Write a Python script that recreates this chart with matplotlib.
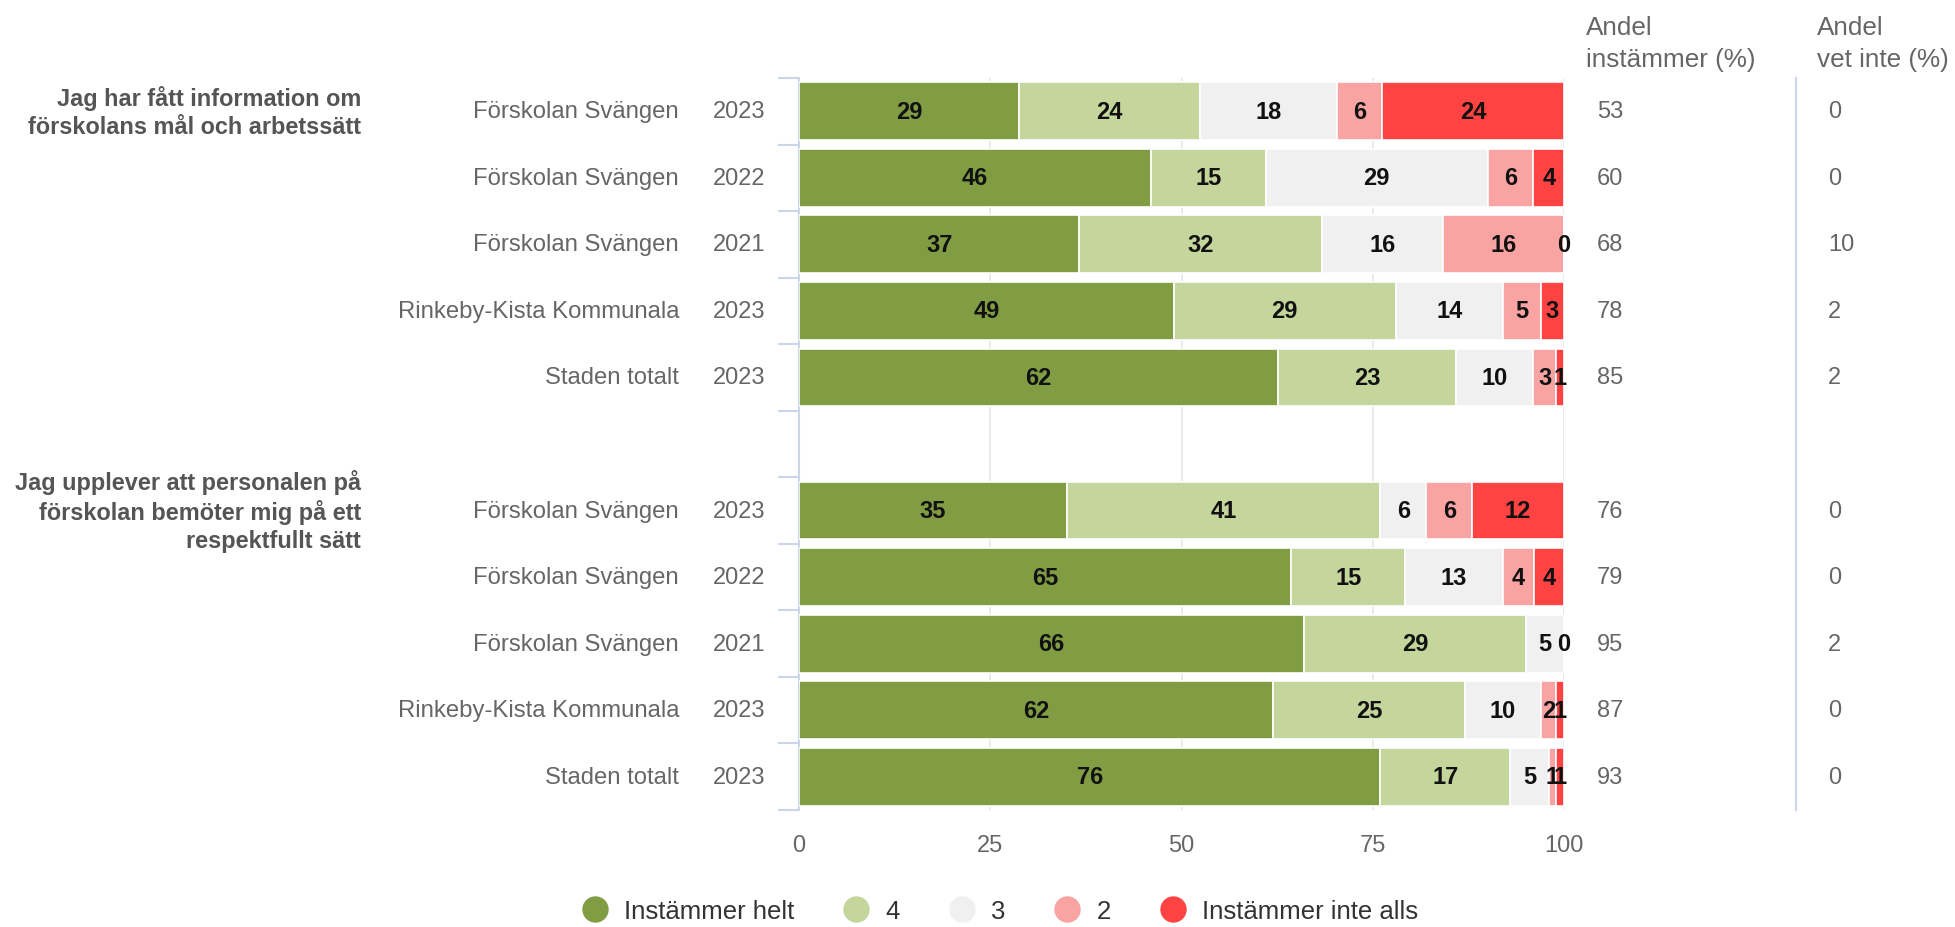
import numpy as np
import matplotlib.pyplot as plt
import matplotlib.transforms as mtransforms
from matplotlib.lines import Line2D

plt.rcParams['font.family'] = ['Liberation Sans', 'DejaVu Sans']

W, H = 1955, 928

questions = ["Jag har fått information om\nförskolans mål och arbetssätt",
             "Jag upplever att personalen på\nförskolan bemöter mig på ett\nrespektfullt sätt"]
units = ["Förskolan Svängen", "Förskolan Svängen", "Förskolan Svängen",
         "Rinkeby-Kista Kommunala", "Staden totalt"]
years = ["2023", "2022", "2021", "2023", "2023"]
series = ["Instämmer helt", "4", "3", "2", "Instämmer inte alls"]
colors = ["#819d44", "#c4d69c", "#f0f0f0", "#f9a3a3", "#ff4343"]

q1_values = [[29, 24, 18, 6, 24],
             [46, 15, 29, 6, 4],
             [37, 32, 16, 16, 0],
             [49, 29, 14, 5, 3],
             [62, 23, 10, 3, 1]]
q2_values = [[35, 41, 6, 6, 12],
             [65, 15, 13, 4, 4],
             [66, 29, 5, 0, 0],
             [62, 25, 10, 2, 1],
             [76, 17, 5, 1, 1]]
q1_agree = [53, 60, 68, 78, 85]
q2_agree = [76, 79, 95, 87, 93]
q1_dontknow = [0, 0, 10, 2, 2]
q2_dontknow = [0, 0, 2, 0, 0]

# rows 0-4 first question, row 5 empty, rows 6-10 second question
groups = [(0, q1_values, q1_agree, q1_dontknow), (6, q2_values, q2_agree, q2_dontknow)]

fig = plt.figure(figsize=(W / 100, H / 100), dpi=100)
ax = fig.add_axes([799 / W, 1 - 811 / H, 765 / W, 732 / H])

label_tr = mtransforms.blended_transform_factory(fig.transFigure, ax.transData)

for start, vals, agree, dk in groups:
    for i, row in enumerate(vals):
        y = start + i
        row = np.array(row, dtype=float)
        widths = row / row.sum() * 100
        left = 0
        drawn = set()
        for k in range(len(row)):
            ax.barh(y, widths[k], left=left, height=0.87, color=colors[k],
                    edgecolor='white', linewidth=1.2, zorder=3)
            xc = round(left + widths[k] / 2, 3)
            # same label at the same spot only once (stacked zeros)
            if (xc, row[k]) not in drawn:
                ax.text(xc, y, f"{int(row[k])}", ha='center', va='center',
                        fontsize=17, fontweight='bold', color='#111111', zorder=4)
                drawn.add((xc, row[k]))
            left += widths[k]
        ax.text(765 / W, y, years[i], transform=label_tr, ha='right', va='center',
                fontsize=17, color='#666666')
        ax.text(679 / W, y, units[i], transform=label_tr, ha='right', va='center',
                fontsize=17.2, color='#666666')
        ax.text(1597 / W, y, str(agree[i]), transform=label_tr, ha='left', va='center',
                fontsize=17, color='#666666')
        ax.text(1828 / W, y, str(dk[i]), transform=label_tr, ha='left', va='center',
                fontsize=17, color='#666666')

for q, start in zip(questions, [0, 6]):
    ax.text(361 / W, start, q, transform=label_tr, ha='right', va='center',
            fontsize=16.9, fontweight='bold', color='#555555', linespacing=1.27)

fig.text(1586 / W, 1 - 44 / H, "Andel\ninstämmer (%)", ha='left', va='center',
         fontsize=18.8, color='#666666', linespacing=1.45)
fig.text(1817 / W, 1 - 44 / H, "Andel\nvet inte (%)", ha='left', va='center',
         fontsize=18.8, color='#666666', linespacing=1.45)

sep = Line2D([1796 / W, 1796 / W], [-0.5, 10.5], transform=label_tr,
             color='#ccd6eb', linewidth=1.5)
fig.add_artist(sep)

ax.set_xlim(0, 100)
ax.set_ylim(10.5, -0.5)
ax.set_xticks([0, 25, 50, 75, 100])
ax.set_xticklabels(["0", "25", "50", "75", "100"])
ax.tick_params(axis='x', length=0, pad=17, labelsize=17, labelcolor='#666666')
ax.set_yticks([])
ax.set_yticks(np.arange(-0.5, 11, 1), minor=True)
ax.tick_params(axis='y', which='minor', length=15, width=1.5, color='#ccd6eb')
ax.grid(axis='x', color='#e6e6e6', linewidth=1.2, zorder=0)
ax.set_axisbelow(True)
for s in ['top', 'right', 'bottom']:
    ax.spines[s].set_visible(False)
ax.spines['left'].set_color('#ccd6eb')
ax.spines['left'].set_linewidth(1.5)

handles = [Line2D([], [], marker='o', linestyle='', markersize=18,
                  markerfacecolor=c, markeredgecolor=c, label=s)
           for s, c in zip(series, colors)]
fig.legend(handles=handles, loc='center', bbox_to_anchor=(1000 / W, 1 - 912 / H),
           ncol=5, frameon=False, fontsize=18.5, handlelength=1.0, handletextpad=0.65,
           columnspacing=1.9, labelcolor='#333333')

fig.savefig('out.png', dpi=100)
